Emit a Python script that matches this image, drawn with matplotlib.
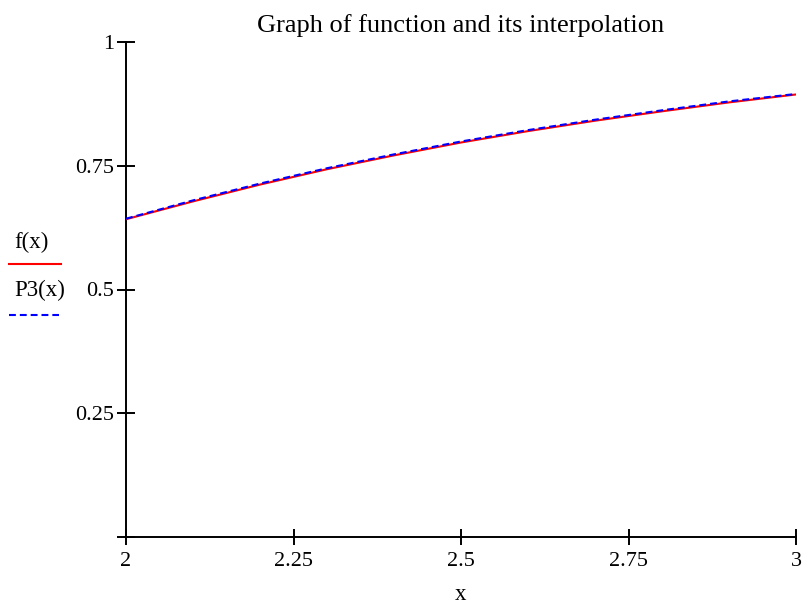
import matplotlib
matplotlib.use("Agg")
import matplotlib.pyplot as plt
from matplotlib.lines import Line2D

# values
x = [2.0, 2.1, 2.2, 2.3, 2.4, 2.5, 2.6, 2.7, 2.8, 2.9, 3.0]
f_vals = [0.642, 0.678, 0.712, 0.743, 0.771, 0.797, 0.820, 0.841, 0.860, 0.878, 0.894]
p3_vals = [0.643, 0.680, 0.714, 0.745, 0.773, 0.799, 0.822, 0.843, 0.862, 0.880, 0.895]

x_ticks = [2, 2.25, 2.5, 2.75, 3]
x_labels = ["2", "2.25", "2.5", "2.75", "3"]
y_ticks = [0, 0.25, 0.5, 0.75, 1]
y_labels = ["", "0.25", "0.5", "0.75", "1"]

plt.rcParams["font.family"] = ["Liberation Serif", "DejaVu Serif"]

fig = plt.figure(figsize=(8.06, 6.07), dpi=100)
ax = fig.add_axes([126 / 806, 70 / 607, 670 / 806, 495 / 607])

ax.plot(x, f_vals, color="red", lw=1.5)
ax.plot(x, p3_vals, color="blue", lw=1.5, linestyle=(0, (3.3, 1.9)))

ax.set_xlim(2, 3)
ax.set_ylim(0, 1)
ax.set_xticks(x_ticks)
ax.set_xticklabels(x_labels)
ax.set_yticks(y_ticks)
ax.set_yticklabels(y_labels)

for s in ["top", "right"]:
    ax.spines[s].set_visible(False)
for s in ["left", "bottom"]:
    ax.spines[s].set_linewidth(1.4)
    ax.spines[s].set_zorder(0.5)

ax.tick_params(axis="x", direction="inout", length=11, width=1.4, pad=5, labelsize=16)
ax.tick_params(axis="y", direction="inout", length=13, width=1.4, pad=2, labelsize=16)

ax.set_title("Graph of function and its interpolation", fontsize=19, pad=7)
ax.set_xlabel("x", fontsize=16.5, labelpad=10)

# legend in the Mathcad style, label above its line sample
fig.text(14 / 806, 1 - 242 / 607, "f(x)", fontsize=16.5, va="center", ha="left")
fig.add_artist(Line2D([9 / 806, 61 / 806], [1 - 264 / 607] * 2, color="red", lw=1.5))
fig.text(14 / 806, 1 - 290 / 607, "P3(x)", fontsize=16.5, va="center", ha="left")
fig.add_artist(Line2D([9 / 806, 59 / 806], [1 - 315 / 607] * 2, color="blue", lw=1.5,
                      linestyle=(0, (3.3, 1.9))))

fig.savefig("out.png", dpi=100)
